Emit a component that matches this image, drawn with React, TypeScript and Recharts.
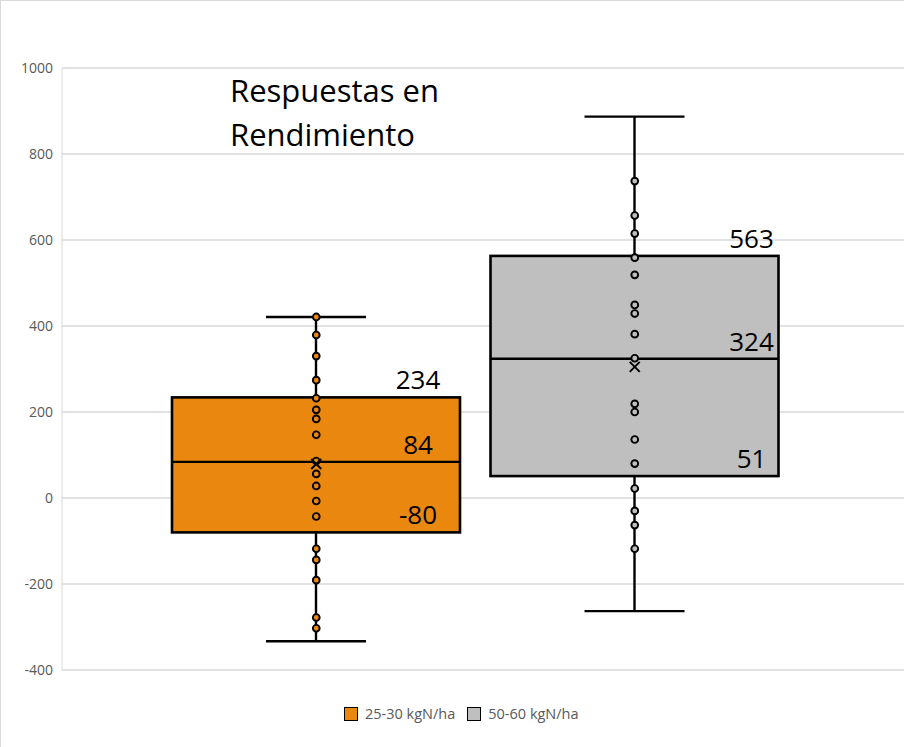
import { ComposedChart, Bar, Scatter, XAxis, YAxis, CartesianGrid } from "recharts";

const categories = ["25-30 kgN/ha", "50-60 kgN/ha"];
const colors = ["#E9870E", "#BFBFBF"];

// box plot summary
const minValues = [-333, -263];
const q1Values = [-80, 51];
const medianValues = [84, 324];
const q3Values = [234, 563];
const maxValues = [421, 887];
const meanValues = [79, 305];

// individual responses (inner points)
const pointsLow = [421, 379, 330, 274, 232, 205, 184, 147, 86, 56, 28, -7, -43, -118, -144, -191, -278, -303];
const pointsHigh = [737, 657, 615, 559, 519, 449, 429, 381, 325, 219, 200, 136, 80, 22, -30, -63, -118];

const yTicks = [-400, -200, 0, 200, 400, 600, 800, 1000];

const font = "'Open Sans', sans-serif";

const rows = categories.map((name, i) => ({
  name,
  range: [minValues[i], maxValues[i]],
  min: minValues[i],
  q1: q1Values[i],
  median: medianValues[i],
  q3: q3Values[i],
  max: maxValues[i],
}));

const dotsLow = pointsLow.map((value) => ({ name: categories[0], value }));
const dotsHigh = pointsHigh.map((value) => ({ name: categories[1], value }));
const means = categories.map((name, i) => ({ name, value: meanValues[i] }));

const BoxShape = (props: any) => {
  const { x, y, width, height, payload, index } = props;
  const top = Math.min(y, y + height);
  const bottom = Math.max(y, y + height);
  const span = payload.max - payload.min;
  const py = (v: number) => bottom - ((v - payload.min) / span) * (bottom - top);
  const cx = x + width / 2;
  const cap = 50;
  const labelX = x + width - (index === 0 ? 42 : 27);
  const labelStyle = { fontFamily: font, fontSize: 26, fill: "#000" };
  return (
    <g>
      <line x1={cx} x2={cx} y1={top} y2={bottom} stroke="#000" strokeWidth={2.4} />
      <line x1={cx - cap} x2={cx + cap} y1={top} y2={top} stroke="#000" strokeWidth={2.4} />
      <line x1={cx - cap} x2={cx + cap} y1={bottom} y2={bottom} stroke="#000" strokeWidth={2.4} />
      <rect
        x={x}
        y={py(payload.q3)}
        width={width}
        height={py(payload.q1) - py(payload.q3)}
        fill={colors[index]}
        stroke="#000"
        strokeWidth={2.6}
      />
      <line x1={x} x2={x + width} y1={py(payload.median)} y2={py(payload.median)} stroke="#000" strokeWidth={2.4} />
      <text x={labelX} y={py(payload.q3) - 8} textAnchor="middle" style={labelStyle}>{payload.q3}</text>
      <text x={labelX} y={py(payload.median) - 8} textAnchor="middle" style={labelStyle}>{payload.median}</text>
      <text x={labelX} y={py(payload.q1) - 8} textAnchor="middle" style={labelStyle}>{payload.q1}</text>
    </g>
  );
};

const dotShape = (fill: string) => (props: any) => (
  <circle cx={props.cx} cy={props.cy} r={3.4} fill={fill} stroke="#000" strokeWidth={1.9} />
);

const MeanShape = (props: any) => {
  const { cx, cy } = props;
  const s = 5;
  return (
    <g stroke="#000" strokeWidth={1.9}>
      <line x1={cx - s} y1={cy - s} x2={cx + s} y2={cy + s} />
      <line x1={cx - s} y1={cy + s} x2={cx + s} y2={cy - s} />
    </g>
  );
};

export default function App() {
  return (
    <div
      style={{
        position: "absolute",
        left: 0,
        top: 0,
        width: 904,
        height: 747,
        background: "#fff",
        fontFamily: font,
        borderLeft: "1px solid #d9d9d9",
        borderTop: "1px solid #d9d9d9",
        boxSizing: "border-box",
        overflow: "hidden",
      }}
    >
      <ComposedChart width={904} height={747} data={rows} margin={{ top: 67, right: 0, bottom: 78, left: 0 }}>
        <CartesianGrid vertical={false} stroke="#d9d9d9" strokeWidth={1.3} />
        <XAxis
          dataKey="name"
          type="category"
          allowDuplicatedCategory={false}
          hide
          padding={{ left: 95, right: 111 }}
        />
        <YAxis
          domain={[-400, 1000]}
          ticks={yTicks}
          width={61}
          tickLine={false}
          axisLine={{ stroke: "#d9d9d9" }}
          tickMargin={3}
          tick={{ fontSize: 14, fill: "#595959", fontFamily: font }}
          interval={0}
        />
        <Bar dataKey="range" barSize={288} shape={BoxShape} isAnimationActive={false} />
        <Scatter data={dotsLow} dataKey="value" shape={dotShape(colors[0])} isAnimationActive={false} />
        <Scatter data={dotsHigh} dataKey="value" shape={dotShape(colors[1])} isAnimationActive={false} />
        <Scatter data={means} dataKey="value" shape={MeanShape} isAnimationActive={false} />
      </ComposedChart>

      <div
        style={{
          position: "absolute",
          left: 229,
          top: 67,
          fontSize: 31,
          lineHeight: "44px",
          color: "#000",
        }}
      >
        Respuestas en
        <br />
        Rendimiento
      </div>

      <div
        style={{
          position: "absolute",
          left: 343,
          top: 703,
          display: "flex",
          alignItems: "center",
          fontSize: 14.5,
          color: "#595959",
        }}
      >
        {categories.map((c, i) => (
          <div key={c} style={{ display: "flex", alignItems: "center", marginRight: 12 }}>
            <span
              style={{
                width: 12,
                height: 12,
                background: colors[i],
                border: "1.5px solid #000",
                marginRight: 7,
                display: "inline-block",
              }}
            />
            {c}
          </div>
        ))}
      </div>
    </div>
  );
}
